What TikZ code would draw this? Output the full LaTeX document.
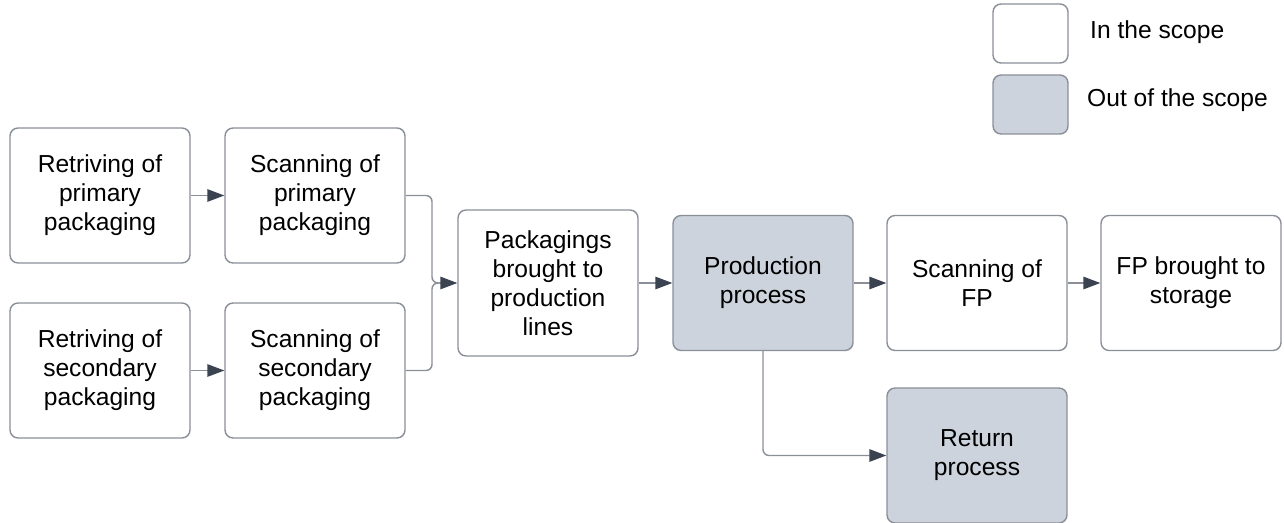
\documentclass[tikz,border=0pt]{standalone}
\usepackage{fontspec}
\setmainfont{Liberation Sans}
\usetikzlibrary{arrows.meta}
\definecolor{lineGray}{HTML}{8A8F98}
\definecolor{scopeGray}{HTML}{CDD3DC}
\definecolor{tipDark}{HTML}{3B4350}
\tikzset{
  stepbox/.style={draw=lineGray, line width=0.8pt, rounded corners=0.16cm, fill=white,
    minimum width=3.6cm, minimum height=2.7cm, align=center,
    font=\fontsize{14}{16.5}\selectfont},
  outbox/.style={stepbox, fill=scopeGray},
  flow/.style={draw=lineGray, line width=0.8pt,
    -{Triangle[length=0.34cm, width=0.25cm, fill=tipDark, color=tipDark]}},
  link/.style={draw=lineGray, line width=0.8pt, rounded corners=0.12cm}
}
\begin{document}
\begin{tikzpicture}[x=0.02cm, y=-0.02cm]
  \useasboundingbox (0,0) rectangle (1284,523);

  % legenda
  \node[stepbox, minimum width=1.5cm, minimum height=1.18cm] (inleg) at (1030.5,33.5) {};
  \node[outbox, minimum width=1.5cm, minimum height=1.18cm] (outleg) at (1030.5,104.5) {};
  \node[anchor=west, font=\fontsize{14}{16.5}\selectfont] (intxt) at (1084,32) {In the scope};
  \node[anchor=west, font=\fontsize{14}{16.5}\selectfont] (outtxt) at (1081,100) {Out of the scope};

  % verpakkingen ophalen en scannen
  \node[stepbox] (ret1) at (100,195.5) {Retriving of\\primary\\packaging};
  \node[stepbox] (scan1) at (315,195.5) {Scanning of\\primary\\packaging};
  \node[stepbox] (ret2) at (100,370.5) {Retriving of\\secondary\\packaging};
  \node[stepbox] (scan2) at (315,370.5) {Scanning of\\secondary\\packaging};

  % hoofdlijn
  \node[stepbox, minimum height=2.92cm] (lines) at (548,283) {Packagings\\brought to\\production\\lines};
  \node[outbox] (prod) at (763,283) {Production\\process};
  \node[stepbox] (scanfp) at (977,283) {Scanning of\\FP};
  \node[stepbox] (store) at (1191,283) {FP brought to\\storage};
  \node[outbox] (ret) at (977,455.5) {Return\\process};

  % accolade naar de productielijnen
  \coordinate (jn) at (432,283);
  \coordinate (jnr) at (440,283);

  \draw[flow] (ret1) -- (scan1);
  \draw[flow] (ret2) -- (scan2);
  \draw[link] (scan1.east) -| (jn) -- (jnr);
  \draw[link] (scan2.east) -| (jn) -- (jnr);
  \draw[flow] (jnr) -- (lines.west);
  \draw[flow] (lines) -- (prod);
  \draw[flow] (prod) -- (scanfp);
  \draw[flow] (scanfp) -- (store);
  \draw[flow, rounded corners=0.12cm] (prod.south) |- (ret.west);
\end{tikzpicture}
\end{document}
